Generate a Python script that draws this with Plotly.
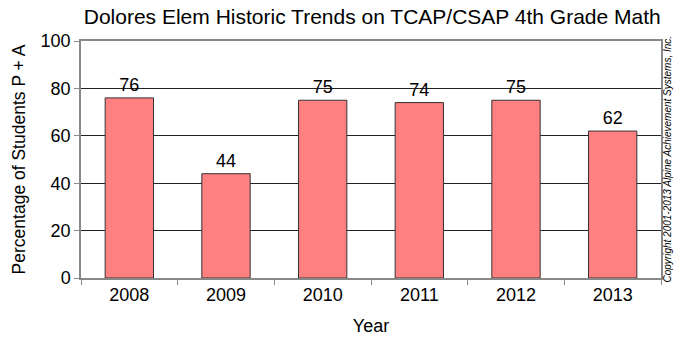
import plotly.graph_objects as go

years = ["2008", "2009", "2010", "2011", "2012", "2013"]
values = [76, 44, 75, 74, 75, 62]
y_ticks = [0, 20, 40, 60, 80, 100]

FONT = "Liberation Sans, Arial, sans-serif"

fig = go.Figure(go.Bar(
    x=years, y=values,
    width=0.5,
    marker=dict(color="#FF8080", line=dict(color="#333333", width=1)),
    text=[str(v) for v in values],
    textposition="outside",
    textfont=dict(family=FONT, size=18, color="#000"),
    cliponaxis=False,
))

fig.update_layout(
    width=683, height=337,
    margin=dict(l=81, r=22, t=41, b=59, autoexpand=False),
    paper_bgcolor="white", plot_bgcolor="white",
    showlegend=False,
    title=dict(text="Dolores Elem Historic Trends on TCAP/CSAP 4th Grade Math",
               x=0.545, xanchor="center", y=0.951, yanchor="middle",
               font=dict(family=FONT, size=21, color="#000")),
    font=dict(family=FONT, color="#000"),
)
fig.update_xaxes(
    type="category", tickson="boundaries", ticks="outside", ticklen=5,
    tickcolor="#888", linecolor="#888", linewidth=1.5, mirror=True,
    showgrid=False, tickfont=dict(size=18),
    title=dict(text="Year", font=dict(size=18), standoff=15),
)
fig.update_yaxes(
    range=[0, 100], tickvals=y_ticks, ticks="outside", ticklen=5,
    tickcolor="#888", linecolor="#888", linewidth=1.5, mirror=True,
    showgrid=True, gridcolor="#222", gridwidth=1, zeroline=False,
    tickfont=dict(size=18),
    title=dict(text="Percentage of Students P + A", font=dict(size=17.5), standoff=10),
)
fig.add_annotation(
    text="Copyright 2001-2013 Alpine Achievement Systems, Inc.",
    xref="paper", yref="paper", x=1.0, y=0.5, xshift=6,
    textangle=-90, showarrow=False, xanchor="center", yanchor="middle",
    font=dict(family=FONT, size=10, color="#000", style="italic"),
)
fig.write_html(
    "out.html",
    config={"displayModeBar": False},
    post_script="document.body.style.margin='0';document.body.style.overflow='hidden';",
)
